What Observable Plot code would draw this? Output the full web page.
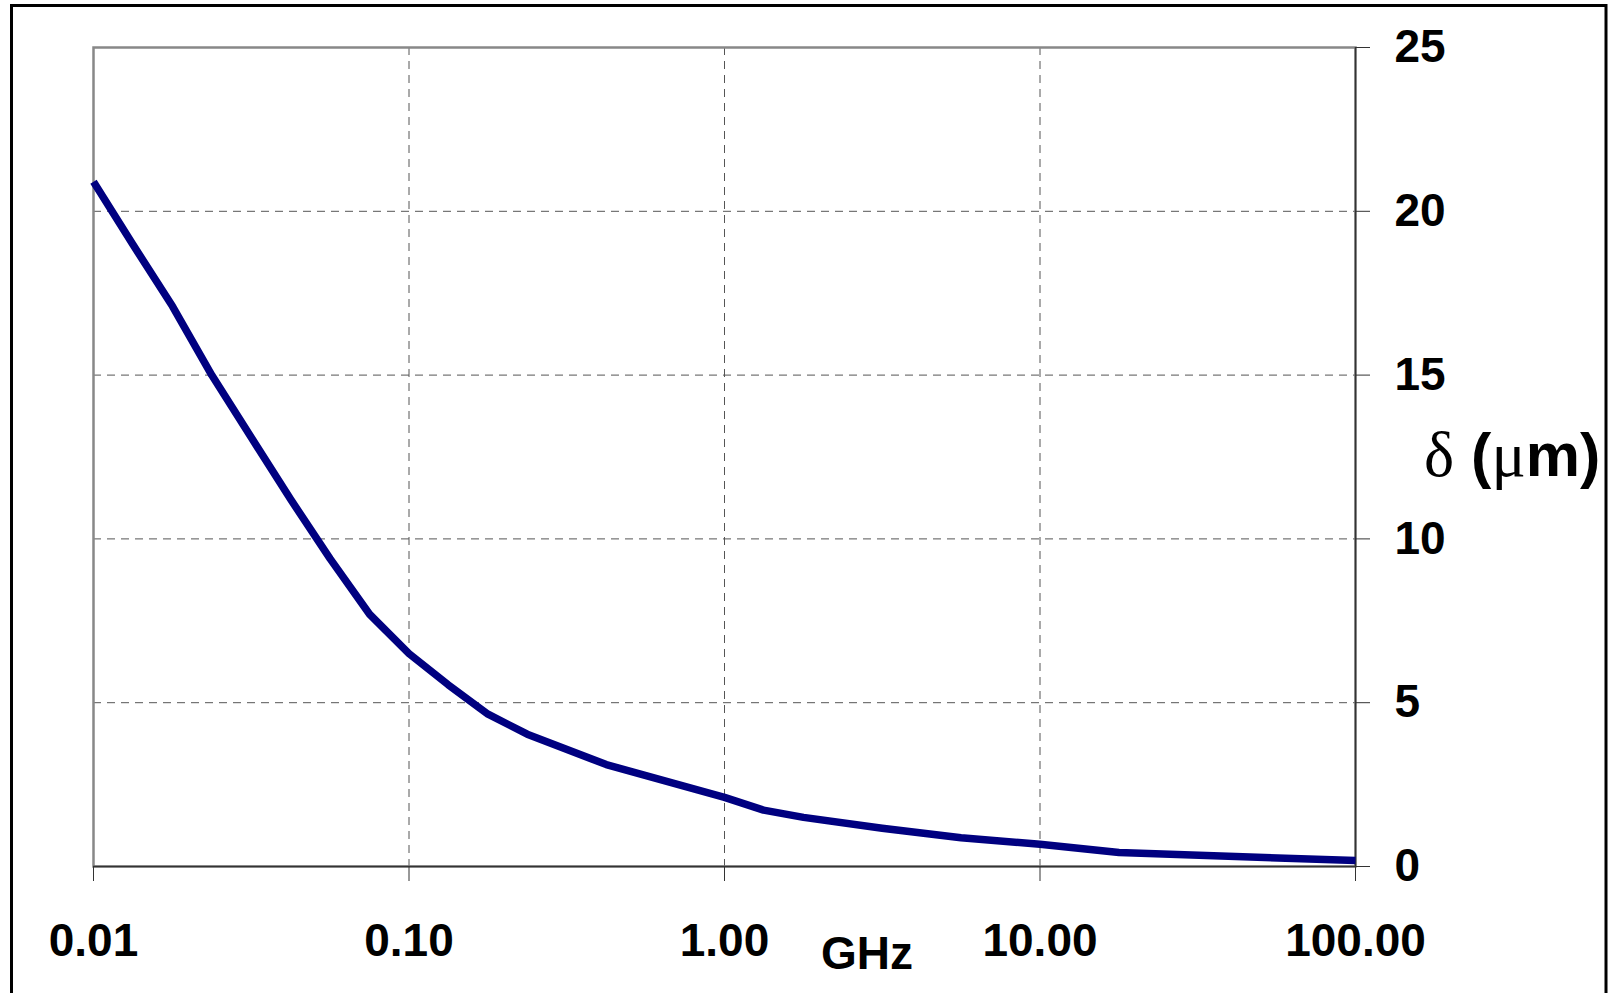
<!DOCTYPE html>
<html><head><meta charset="utf-8">
<script src="https://cdn.jsdelivr.net/npm/d3@7"></script>
<script src="https://cdn.jsdelivr.net/npm/@observablehq/plot@0.6"></script>
<style>
html,body{margin:0;padding:0;background:#fff;overflow:hidden}
#chart{position:relative;width:1614px;height:993px}
</style></head><body><div id="chart"></div>
<script>
// Skin depth δ (μm) versus frequency (GHz)
const freqGHz = [0.01, 0.0133, 0.0178, 0.0237, 0.0316, 0.0422, 0.0562, 0.075, 0.1, 0.133, 0.178, 0.237, 0.422, 1.0, 1.33, 1.78, 3.16, 5.62, 10, 17.8, 100];
const depthUm = [20.9, 19.0, 17.1, 15.0, 13.1, 11.2, 9.4, 7.7, 6.5, 5.55, 4.65, 4.04, 3.11, 2.11, 1.72, 1.5, 1.17, 0.88, 0.68, 0.43, 0.18];
const xTicks = [0.01, 0.1, 1, 10, 100];
const yTicks = [0, 5, 10, 15, 20, 25];
const xTitle = "GHz";
const yTitleSymbol = "δ";
const yTitleUnitSymbol = "μ";
const yTitleUnit = "m)";

const data = freqGHz.map((f, i) => ({f, d: depthUm[i]}));
const W = 1614, H = 993;
const sans = '"Liberation Sans", Arial, sans-serif';
const serif = '"Liberation Serif", "Times New Roman", "DejaVu Serif", serif';

const svg = Plot.plot({
  width: W, height: H,
  marginLeft: 93, marginRight: 259, marginTop: 47, marginBottom: 127,
  style: {fontFamily: sans, fontSize: "46px", fontWeight: "bold", background: "white", color: "black", overflow: "visible"},
  x: {type: "log", domain: [0.01, 100]},
  y: {domain: [0, 25]},
  marks: [
    Plot.gridX({ticks: xTicks.slice(1, -1), stroke: "#555", strokeOpacity: 1, strokeWidth: 1, strokeDasharray: "8,6"}),
    Plot.gridY({ticks: yTicks.slice(1, -1), stroke: "#555", strokeOpacity: 1, strokeWidth: 1, strokeDasharray: "8,6"}),
    Plot.frame({stroke: "#888", strokeWidth: 2.5}),
    Plot.ruleX([100], {stroke: "#333", strokeWidth: 1.5}),
    Plot.ruleY([0], {stroke: "#333", strokeWidth: 1.5}),
    Plot.axisX({ticks: xTicks, tickFormat: d3.format(".2f"), tickSize: 15, tickPadding: 42, label: null, stroke: "#333", fill: "black"}),
    Plot.axisY({anchor: "right", ticks: yTicks, tickSize: 14, tickPadding: 25, label: null, stroke: "#333", fill: "black"}),
    Plot.line(data, {x: "f", y: "d", stroke: "#000080", strokeWidth: 7.5, strokeLinecap: "butt", strokeLinejoin: "round"})
  ]
});
document.getElementById("chart").appendChild(svg);

const s = d3.select(svg);
s.append("rect").attr("x", 11.5).attr("y", 5.5).attr("width", 1594.5).attr("height", 1000)
  .attr("fill", "none").attr("stroke", "black").attr("stroke-width", 3);
s.append("text").attr("x", 867).attr("y", 969).attr("text-anchor", "middle")
  .style("font-family", sans).style("font-size", "46px").style("font-weight", "bold").text(xTitle);
const t = s.append("text").attr("x", 1424).attr("y", 476).attr("text-anchor", "start").style("font-size", "61px");
t.append("tspan").style("font-family", serif).style("font-weight", "normal").style("font-size", "64px").text(yTitleSymbol);
t.append("tspan").style("font-family", sans).style("font-weight", "bold").text(" (");
t.append("tspan").style("font-family", serif).style("font-weight", "normal").style("font-size", "64px").text(yTitleUnitSymbol);
t.append("tspan").style("font-family", sans).style("font-weight", "bold").text(yTitleUnit);
</script></body></html>
